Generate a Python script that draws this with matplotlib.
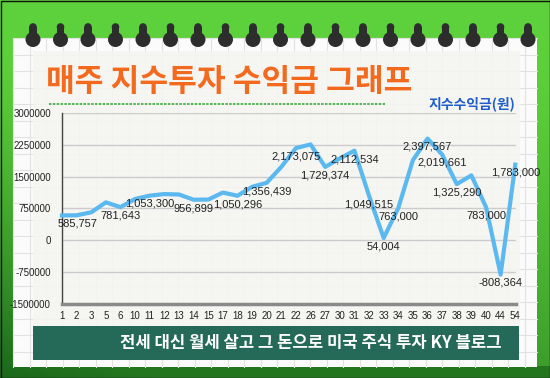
import matplotlib.pyplot as plt
import numpy as np
from matplotlib.patches import Rectangle, Circle
from matplotlib.colors import to_rgb

plt.rcParams['font.family'] = ['Liberation Sans', 'Noto Sans CJK KR', 'DejaVu Sans']

# weekly index-investing profit (won)
weeks = ['1', '2', '3', '5', '6', '10', '11', '12', '13', '14', '15', '17', '18', '19', '20', '21',
         '22', '26', '27', '30', '31', '32', '33', '34', '35', '36', '37', '38', '39', '40', '44', '54']
profit = [585757, 590000, 660000, 895000, 781643, 975000, 1053300, 1090000, 1080000, 956899,
          960000, 1125000, 1050296, 1260000, 1356439, 1730000, 2173075, 2260000, 1729374, 1930000,
          2112534, 1049515, 54004, 763000, 1890000, 2397567, 2019661, 1325290, 1530000, 783000,
          -808364, 1783000]
labeled_weeks = ['1', '6', '11', '14', '18', '20', '22', '27', '31', '32', '33', '34',
                 '36', '37', '38', '40', '44', '54']
yticks = [-1500000, -750000, 0, 750000, 1500000, 2250000, 3000000]

title = '매주 지수투자 수익금 그래프'
series_name = '지수수익금(원)'
footer = '전세 대신 월세 살고 그 돈으로 미국 주식 투자 KY 블로그'

W, H = 550, 378
fig = plt.figure(figsize=(W / 100, H / 100), dpi=100)

# background layer in pixel coordinates
bg = fig.add_axes([0, 0, 1, 1])
bg.set_xlim(0, W)
bg.set_ylim(H, 0)
bg.axis('off')

# green frame with a darker bottom / left
yy, xx = np.mgrid[0:H, 0:W]
t = np.clip((yy - 40) / 338.0, 0, 1) ** 1.4 * (1 - 0.5 * xx / W)
t[yy >= 366] = np.maximum(t[yy >= 366], 0.85)
bright = np.array(to_rgb('#5dd13b'))
dark = np.array(to_rgb('#1a671a'))
img = bright[None, None, :] * (1 - t[..., None]) + dark[None, None, :] * t[..., None]
bg.imshow(img, extent=(0, W, H, 0), aspect='auto', zorder=0)
bg.add_patch(Rectangle((0.5, 0.5), W - 1, H - 1, fill=False, ec='#111111', lw=1, zorder=1))

# paper with grid
bg.add_patch(Rectangle((13, 38), 524, 329, fc='#fbfbfb', ec='none', zorder=1))
for gx in np.arange(13, 537, 16.5):
    bg.plot([gx, gx], [38, 367], color='#e2e2e2', lw=0.8, zorder=2)
for gy in np.arange(38, 367, 16.5):
    bg.plot([13, 537], [gy, gy], color='#e2e2e2', lw=0.8, zorder=2)
bg.add_patch(Rectangle((33, 51), 487, 276, fc='#f5f5f1', ec='none', alpha=0.85, zorder=3))

# rings
for i in range(19):
    cx = 33 + 27.5 * i
    bg.add_patch(Circle((cx, 39.5), 7.5, fc='#2d2d2d', ec='none', zorder=5))
    bg.add_patch(Circle((cx, 27), 3.8, fc='#2d2d2d', ec='none', zorder=5))
    bg.add_patch(Rectangle((cx - 3.8, 27), 7.6, 10, fc='#2d2d2d', ec='none', zorder=5))

# title + legend
bg.text(229, 82, title, color='#f36a1e', fontsize=22.5, fontweight='black',
        family='Noto Sans CJK KR', ha='center', va='center', zorder=6)
bg.plot([49, 386], [104, 104], color='#3aa83a', lw=1.2, ls=(0, (1.5, 0.8)), zorder=6)
bg.text(472, 104, series_name, color='#1f5ccc', fontsize=10, fontweight='bold',
        family='Noto Sans CJK KR', ha='center', va='center', zorder=6)

# footer banner
bg.add_patch(Rectangle((33, 326), 486, 34, fc='#256a58', ec='none', zorder=4))
bg.text(311, 343, footer, color='white', fontsize=12, fontweight='bold',
        family='Noto Sans CJK KR', ha='center', va='center', zorder=6)

# chart
ax = fig.add_axes([62 / W, 1 - 304 / H, 454 / W, 191 / H])
ax.patch.set_alpha(0)
x = np.arange(len(weeks))
ax.plot(x, profit, color='#5bb9f0', lw=3, clip_on=False, zorder=3)
ax.set_xlim(0, len(weeks) - 1 + 0.05)
ax.set_ylim(-1500000, 3000000)
ax.set_yticks(yticks)
ax.set_yticklabels([str(v) for v in yticks])
ax.set_xticks(x)
ax.set_xticklabels(weeks)
ax.tick_params(length=0, labelsize=7, colors='#222222')
ax.tick_params(axis='y', pad=8)
ax.tick_params(axis='x', pad=5)
ax.grid(axis='y', color='#cccccc', lw=1)
ax.set_axisbelow(True)
for s in ['top', 'right']:
    ax.spines[s].set_visible(False)
ax.spines['left'].set_color('#444444')
ax.spines['left'].set_linewidth(1)
ax.spines['bottom'].set_color('#8a8a8a')
ax.spines['bottom'].set_linewidth(2.5)

for w in labeled_weeks:
    i = weeks.index(w)
    v = profit[i]
    if i == 0:
        ax.annotate(f'{v:,}', (i, v), xytext=(-3, -6), textcoords='offset points',
                    ha='left', va='center', fontsize=8, color='#222222', zorder=4)
    else:
        ax.annotate(f'{v:,}', (i, v), xytext=(0, -6), textcoords='offset points',
                    ha='center', va='center', fontsize=8, color='#222222', zorder=4)

fig.savefig('out.png', dpi=100)
